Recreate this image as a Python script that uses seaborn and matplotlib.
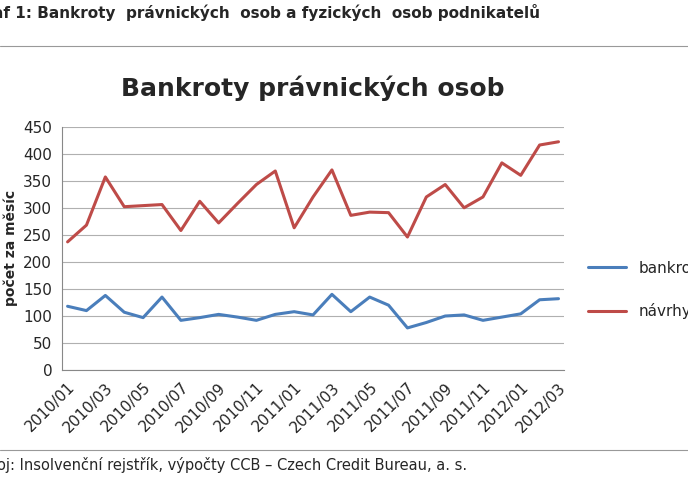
import pandas as pd
import matplotlib.pyplot as plt
import seaborn as sns

months = ["2010/01", "2010/02", "2010/03", "2010/04", "2010/05", "2010/06", "2010/07",
          "2010/08", "2010/09", "2010/10", "2010/11", "2010/12", "2011/01", "2011/02",
          "2011/03", "2011/04", "2011/05", "2011/06", "2011/07", "2011/08", "2011/09",
          "2011/10", "2011/11", "2011/12", "2012/01", "2012/02", "2012/03"]
bankroty = [118, 110, 138, 107, 97, 135, 92, 97, 103, 98, 92, 103, 108, 102,
            140, 108, 135, 120, 78, 88, 100, 102, 92, 98, 104, 130, 132]
navrhy = [237, 268, 357, 302, 304, 306, 258, 312, 272, 308, 343, 368, 263, 320,
          370, 286, 292, 291, 246, 320, 343, 300, 320, 383, 360, 416, 422]

df = pd.DataFrame({"x": range(len(months)), "bankroty": bankroty, "návrhy": navrhy})
long = df.melt(id_vars="x", var_name="serie", value_name="v")

sns.set_style("white")
plt.rcParams['font.family'] = ['DejaVu Sans']
fig = plt.figure(figsize=(6.88, 4.87), dpi=100)
ax = fig.add_axes([0.09, 0.24, 0.73, 0.50])
sns.lineplot(data=long, x="x", y="v", hue="serie", palette=["#4a7ebb", "#be4b48"],
             linewidth=2.2, ax=ax)
ax.set_ylim(0, 450)
ax.set_yticks(range(0, 451, 50))
ax.set_xlim(-0.3, len(months) - 0.7)
ax.set_xticks(range(0, len(months), 2))
ax.set_xticklabels(months[::2], rotation=45, ha="right", rotation_mode="anchor", fontsize=11)
ax.tick_params(axis="y", labelsize=11)
ax.yaxis.grid(True, color="#b0b0b0", linewidth=0.8)
for s in ["top", "right"]:
    ax.spines[s].set_visible(False)
ax.spines["left"].set_color("#888888")
ax.spines["bottom"].set_color("#888888")
ax.set_xlabel("")
ax.set_ylabel("počet za měsíc", fontsize=10, fontweight="bold")
ax.set_title("Bankroty právnických osob", fontsize=18, fontweight="bold", pad=22)
ax.legend(title=None, frameon=False, loc="center left", bbox_to_anchor=(1.02, 0.33),
          fontsize=11, handlelength=2.5, labelspacing=1.8)

fig.text(-0.01, 0.975, "af 1: Bankroty  právnických  osob a fyzických  osob podnikatelů",
         fontsize=11, fontweight="bold", va="center")
fig.add_artist(plt.Line2D([0, 1], [0.905, 0.905], color="#999999", linewidth=0.8))
fig.text(-0.005, 0.045, "oj: Insolvenční rejstřík, výpočty CCB – Czech Credit Bureau, a. s.",
         fontsize=10.5, va="center")
fig.add_artist(plt.Line2D([0, 1], [0.075, 0.075], color="#999999", linewidth=0.8))
fig.savefig("out.png", dpi=100, facecolor="white")
